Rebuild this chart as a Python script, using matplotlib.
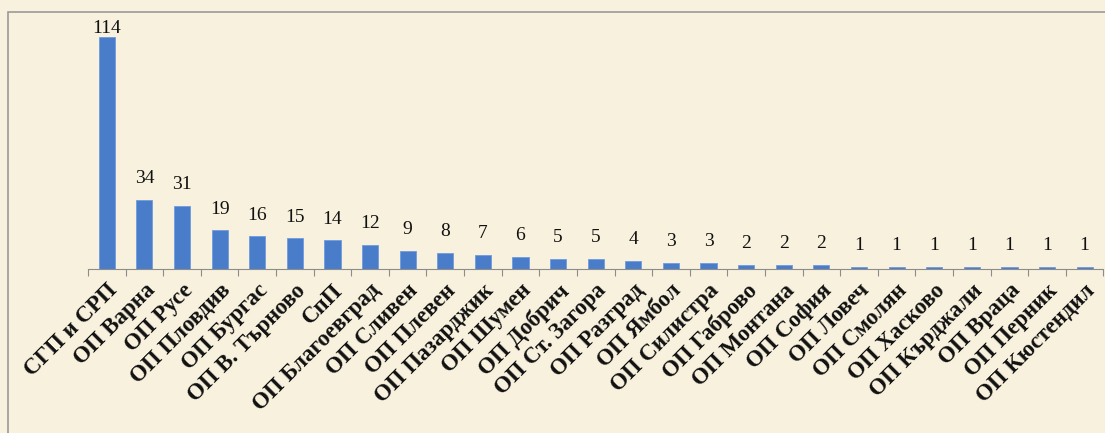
import matplotlib.pyplot as plt
from matplotlib.patches import Rectangle

labels = ['СГП и СРП', 'ОП Варна', 'ОП Русе', 'ОП Пловдив', 'ОП Бургас',
          'ОП В. Търново', 'СпП', 'ОП Благоевград', 'ОП Сливен', 'ОП Плевен',
          'ОП Пазарджик', 'ОП Шумен', 'ОП Добрич', 'ОП Ст. Загора', 'ОП Разград',
          'ОП Ямбол', 'ОП Силистра', 'ОП Габрово', 'ОП Монтана', 'ОП София',
          'ОП Ловеч', 'ОП Смолян', 'ОП Хасково', 'ОП Кърджали', 'ОП Враца',
          'ОП Перник', 'ОП Кюстендил']
values = [114, 34, 31, 19, 16, 15, 14, 12, 9, 8, 7, 6, 5, 5, 4, 3, 3, 2, 2, 2,
          1, 1, 1, 1, 1, 1, 1]

bg = '#f7f1dd'
fig = plt.figure(figsize=(11.05, 4.33), dpi=100, facecolor=bg)
# outer frame of the chart area
fig.patches.append(Rectangle((0.007, -0.1), 1.1, 1.072, transform=fig.transFigure,
                             fill=False, edgecolor='#9a9a9a', linewidth=1.2))

ax = fig.add_axes([0.0796, 0.379, 0.919, 0.563])
ax.set_facecolor('none')

x = range(len(values))
ax.bar(x, values, width=0.43, color='#4a7dc9', edgecolor='#6f9be0', linewidth=0.6)
ax.set_xlim(-0.5, len(values) - 0.5)
ax.set_ylim(0, 120)

for i, v in enumerate(values):
    off = 0 if v == max(values) else 9
    ax.annotate(str(v), (i, v), xytext=(0, off), textcoords='offset points',
                ha='center', va='bottom', family='Liberation Serif', fontsize=14,
                color='#111111')

for s in ['top', 'right', 'left']:
    ax.spines[s].set_visible(False)
ax.spines['bottom'].set_color('#8c8c8c')
ax.set_yticks([])

ax.set_xticks([i - 0.5 for i in range(len(values) + 1)], minor=False)
ax.set_xticklabels([])
ax.tick_params(axis='x', which='major', length=5, color='#8c8c8c')
ax.set_xticks(list(x), minor=True)
ax.set_xticklabels(labels, minor=True, rotation=45, ha='right', va='top',
                   rotation_mode='anchor', family='Liberation Serif',
                   fontweight='bold', fontsize=16.5, color='#111111')
ax.tick_params(axis='x', which='minor', length=0, pad=8)

plt.savefig('out.png', dpi=100, facecolor=bg)
plt.close()
